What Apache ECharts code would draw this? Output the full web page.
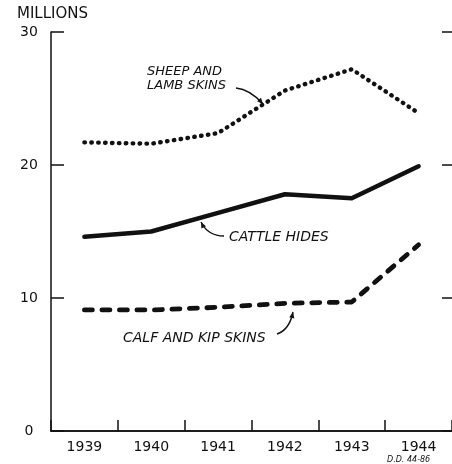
<!DOCTYPE html>
<html>
<head>
<meta charset="utf-8">
<script src="https://cdn.jsdelivr.net/npm/echarts@6/dist/echarts.min.js"></script>
<style>
  html, body { margin: 0; padding: 0; background: #fff; }
  #chart { width: 452px; height: 464px; }
</style>
</head>
<body>
<div id="chart"></div>
<script>
// data (millions)
const years = ['1939', '1940', '1941', '1942', '1943', '1944']
const sheepLamb = [21.7, 21.6, 22.4, 25.6, 27.2, 23.9]
const cattleHides = [14.6, 15.0, 16.4, 17.8, 17.5, 19.9]
const calfKip = [9.1, 9.1, 9.3, 9.6, 9.7, 14.0]
const yTicks = [0, 10, 20, 30]

const ink = '#111'
const font = 'DejaVu Sans'

// small arrow head for the hand drawn pointers
const arrowHead = (tip, dir) => {
  const len = Math.hypot(dir[0], dir[1])
  const ux = dir[0] / len, uy = dir[1] / len
  const bx = tip[0] - ux * 6, by = tip[1] - uy * 6
  return [tip, [bx - uy * 2.6, by + ux * 2.6], [bx + uy * 2.6, by - ux * 2.6]]
}

const pointer = (p0, c1, c2, p1) => [
  {
    type: 'bezierCurve',
    shape: { x1: p0[0], y1: p0[1], cpx1: c1[0], cpy1: c1[1], cpx2: c2[0], cpy2: c2[1], x2: p1[0], y2: p1[1] },
    style: { stroke: ink, lineWidth: 1.4, fill: null },
  },
  {
    type: 'polygon',
    shape: { points: arrowHead(p1, [p1[0] - c2[0], p1[1] - c2[1]]) },
    style: { fill: ink },
  },
]

const label = (x, y, text, size) => ({
  type: 'text',
  x, y,
  style: { text, fill: ink, font: 'italic ' + size + 'px ' + font, textVerticalAlign: 'middle' },
})

const chart = echarts.init(document.getElementById('chart'))

const option = {
  backgroundColor: '#fff',
  animation: false,
  grid: { left: 51, right: -2, top: 32, bottom: 33 },
  xAxis: [
    {
      type: 'category',
      data: years,
      boundaryGap: true,
      axisLine: { lineStyle: { color: ink, width: 1.5 } },
      axisTick: { show: true, inside: true, length: 11, lineStyle: { color: ink, width: 1.5 } },
      axisLabel: { color: ink, fontSize: 14, fontFamily: font, margin: 9 },
      splitLine: { show: false },
    },
    {
      type: 'category',
      data: years,
      position: 'top',
      axisLine: { lineStyle: { color: ink, width: 1.5 } },
      axisTick: { show: false },
      axisLabel: { show: false },
    },
  ],
  yAxis: [
    {
      type: 'value',
      min: yTicks[0],
      max: yTicks[yTicks.length - 1],
      interval: 10,
      name: 'MILLIONS',
      nameLocation: 'end',
      nameGap: 10,
      nameTextStyle: { color: ink, fontSize: 15, fontFamily: font, fontWeight: 500, align: 'left', padding: [0, 0, 0, -34] },
      axisLine: { show: true, lineStyle: { color: ink, width: 1.5 } },
      axisTick: { show: true, inside: true, length: 13, lineStyle: { color: ink, width: 1.5 } },
      axisLabel: { color: ink, fontSize: 14, fontFamily: font, margin: 22, align: 'center' },
      splitLine: { show: false },
    },
    {
      type: 'value',
      position: 'right',
      min: yTicks[0],
      max: yTicks[yTicks.length - 1],
      interval: 10,
      axisLine: { show: false },
      axisTick: { show: true, inside: true, length: 10, lineStyle: { color: ink, width: 1.5 } },
      axisLabel: { show: false },
      splitLine: { show: false },
    },
  ],
  series: [
    {
      name: 'SHEEP AND LAMB SKINS',
      type: 'line',
      data: sheepLamb,
      symbol: 'none',
      lineStyle: { color: ink, width: 4.4, type: [0.5, 6.4], cap: 'round' },
    },
    {
      name: 'CATTLE HIDES',
      type: 'line',
      data: cattleHides,
      symbol: 'none',
      lineStyle: { color: ink, width: 4.5, cap: 'round', join: 'round' },
    },
    {
      name: 'CALF AND KIP SKINS',
      type: 'line',
      data: calfKip,
      symbol: 'none',
      lineStyle: { color: ink, width: 4.8, type: [8, 9.5], cap: 'round' },
    },
  ],
  graphic: [
    label(147, 72, 'SHEEP AND', 13),
    label(147, 86, 'LAMB SKINS', 13),
    ...pointer([236, 88], [246, 89], [255, 95], [263, 104]),
    label(229, 237, 'CATTLE HIDES', 14),
    ...pointer([224, 236], [212, 236], [205, 230], [201, 222]),
    label(123, 338, 'CALF AND KIP SKINS', 14),
    ...pointer([277, 334], [286, 331], [291, 322], [293, 312]),
    label(387, 460, 'D.D. 44-86', 8),
  ],
}

chart.setOption(option)
</script>
</body>
</html>
